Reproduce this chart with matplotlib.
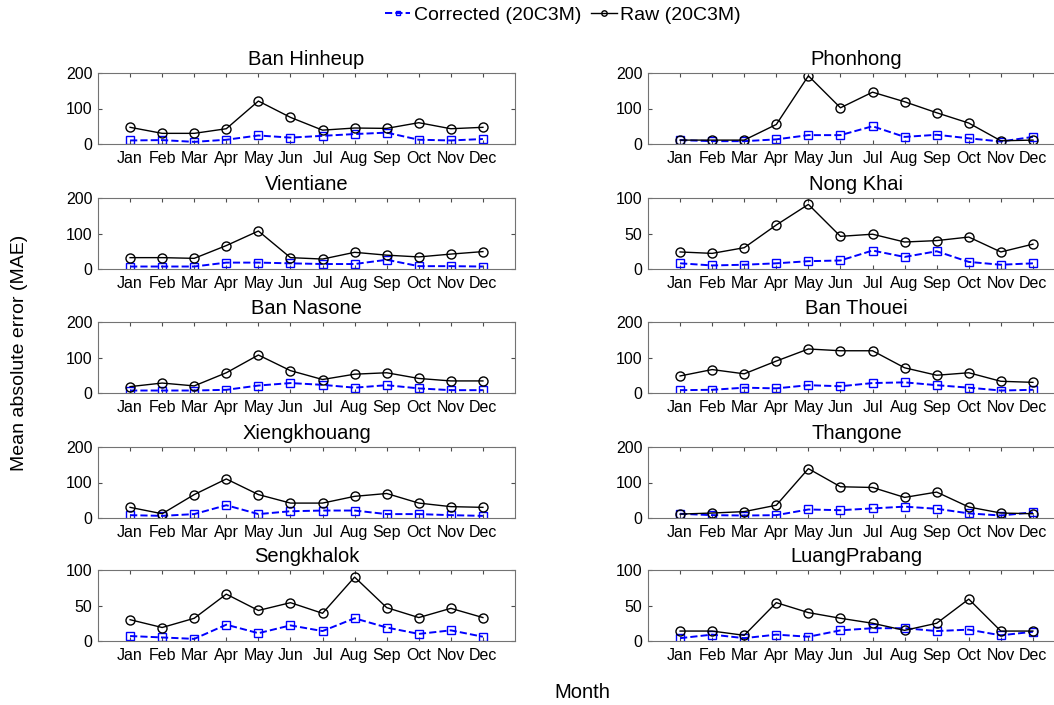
import matplotlib
matplotlib.use('Agg')
import matplotlib.pyplot as plt

plt.rcParams['font.family'] = ['Liberation Sans', 'DejaVu Sans']

months = ['Jan', 'Feb', 'Mar', 'Apr', 'May', 'Jun', 'Jul', 'Aug', 'Sep', 'Oct', 'Nov', 'Dec']

stations = ['Ban Hinheup', 'Phonhong', 'Vientiane', 'Nong Khai', 'Ban Nasone',
            'Ban Thouei', 'Xiengkhouang', 'Thangone', 'Sengkhalok', 'LuangPrabang']
ymax = [200, 200, 200, 100, 200, 200, 200, 200, 100, 100]

raw_hinheup = [47, 30, 30, 43, 121, 75, 39, 45, 44, 60, 43, 47]
cor_hinheup = [10, 11, 6, 12, 24, 18, 23, 28, 32, 12, 10, 14]
raw_phonhong = [11, 11, 11, 55, 192, 102, 146, 119, 88, 59, 9, 11]
cor_phonhong = [11, 8, 8, 13, 25, 25, 50, 20, 26, 16, 7, 20]
raw_vientiane = [32, 32, 30, 66, 107, 32, 28, 47, 39, 34, 42, 49]
cor_vientiane = [7, 7, 7, 18, 18, 16, 14, 14, 26, 8, 8, 7]
raw_nongkhai = [24, 22, 30, 62, 91, 46, 49, 38, 40, 45, 24, 35]
cor_nongkhai = [8, 5, 6, 8, 11, 12, 26, 17, 25, 10, 6, 8]
raw_nasone = [18, 28, 20, 57, 107, 63, 38, 53, 57, 41, 34, 34]
cor_nasone = [7, 7, 7, 9, 21, 28, 23, 15, 22, 13, 8, 8]
raw_thouei = [48, 66, 54, 90, 124, 119, 119, 71, 50, 57, 33, 30]
cor_thouei = [8, 9, 15, 13, 22, 19, 28, 30, 22, 15, 7, 9]
raw_xieng = [30, 12, 66, 110, 66, 42, 42, 61, 69, 42, 32, 30]
cor_xieng = [8, 6, 11, 36, 11, 19, 21, 21, 11, 11, 8, 6]
raw_thangone = [11, 14, 18, 36, 139, 88, 86, 58, 73, 31, 14, 12]
cor_thangone = [12, 8, 7, 8, 24, 22, 27, 32, 26, 13, 7, 16]
raw_seng = [30, 19, 32, 66, 43, 54, 39, 90, 47, 33, 46, 33]
cor_seng = [7, 5, 3, 23, 11, 22, 14, 32, 19, 10, 15, 6]
raw_luang = [14, 14, 8, 54, 40, 32, 25, 15, 25, 59, 14, 14]
cor_luang = [4, 9, 4, 9, 6, 15, 18, 18, 14, 16, 8, 13]

raw_all = [raw_hinheup, raw_phonhong, raw_vientiane, raw_nongkhai, raw_nasone,
           raw_thouei, raw_xieng, raw_thangone, raw_seng, raw_luang]
cor_all = [cor_hinheup, cor_phonhong, cor_vientiane, cor_nongkhai, cor_nasone,
           cor_thouei, cor_xieng, cor_thangone, cor_seng, cor_luang]

W, H = 1054, 705
fig = plt.figure(figsize=(W / 100, H / 100), dpi=100)

lefts = [98, 648]
tops = [73, 198, 322, 447, 570]
aw, ah = 417, 71
x = list(range(1, 13))

for i, name in enumerate(stations):
    row, col = i // 2, i % 2
    ax = fig.add_axes([lefts[col] / W, 1 - (tops[row] + ah) / H, aw / W, ah / H])
    l1, = ax.plot(x, cor_all[i], '--s', color='#0000ff', mfc='none', ms=5.5, lw=1.4, mew=1)
    l2, = ax.plot(x, raw_all[i], '-o', color='black', mfc='none', ms=6.5, lw=1, mew=1)
    ax.set_xlim(0, 13)
    ax.set_ylim(0, ymax[i])
    ax.set_yticks([0, ymax[i] / 2, ymax[i]])
    ax.set_yticklabels(['0', str(ymax[i] // 2), str(ymax[i])])
    ax.set_xticks(x)
    ax.set_xticklabels(months)
    ax.tick_params(direction='in', top=True, right=True, length=3, labelsize=11.5,
                   color='0.3')
    ax.tick_params(axis='x', pad=5)
    ax.tick_params(axis='y', pad=4)
    for s in ax.spines.values():
        s.set_color('0.45')
    ax.set_title(name, fontsize=14.5, pad=6)

fig.legend([l1, l2], ['Corrected (20C3M)', 'Raw (20C3M)'], loc='center',
           bbox_to_anchor=(563 / W, 1 - 15 / H), ncol=2, frameon=False, fontsize=14,
           handlelength=1.3, handletextpad=0.2, columnspacing=0.5, markerscale=0.6)
fig.text(20 / W, 0.5, 'Mean absolute error (MAE)', rotation=90, va='center', ha='center',
         fontsize=14)
fig.text(582 / W, 1 - 692 / H, 'Month', va='center', ha='center', fontsize=14.5)

fig.savefig('out.png', dpi=100)
